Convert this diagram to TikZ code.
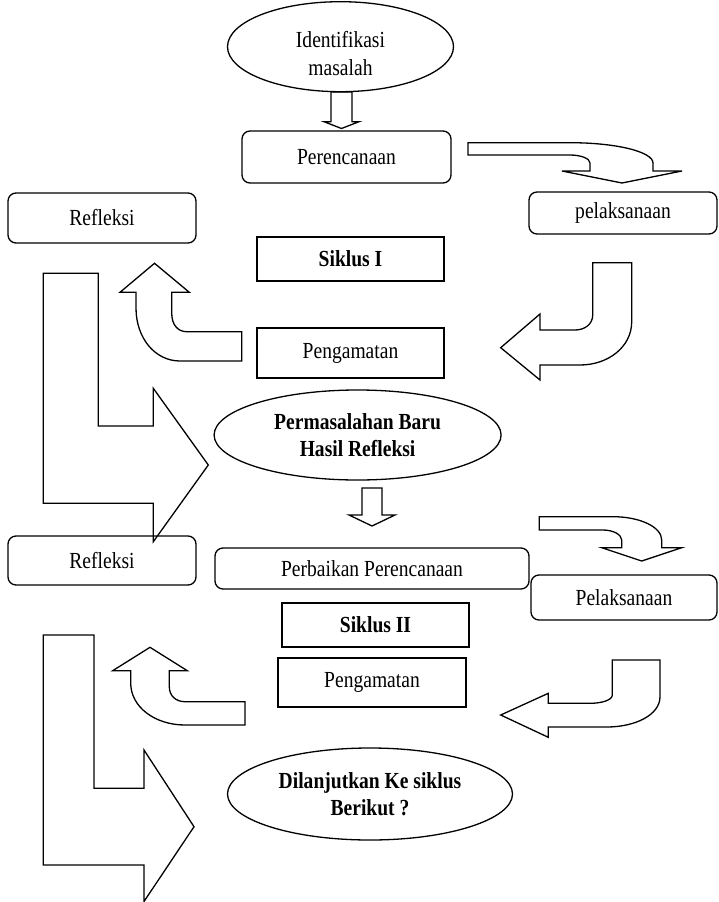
\documentclass[tikz,border=0pt]{standalone}
\usepackage{fontspec}
\setmainfont{Liberation Serif}[FakeStretch=0.85]
\usetikzlibrary{shapes.geometric}

\tikzset{
  outline/.style={draw=black, line width=1.3pt},
  roundbox/.style={outline, rectangle, rounded corners=8pt, inner sep=0pt},
  plainbox/.style={outline, rectangle, inner sep=0pt},
  oval/.style={outline, ellipse, inner sep=0pt, align=center},
  blockarrow/.style={outline, line join=miter},
  txt/.style={align=center, inner sep=0pt},
}

\begin{document}
\begin{tikzpicture}[x=1pt, y=-1pt,
  every node/.append style={font=\fontsize{23}{27.5}\selectfont}]
\useasboundingbox (0,0) rectangle (718,902);

% ---------- Siklus I ----------
\node[oval, minimum width=226, minimum height=90] (ident) at (340.5,46.7) {};
\node[txt] (identtext) at ([yshift=-7pt]ident.center) {Identifikasi\\masalah};

\node[roundbox, minimum width=209, minimum height=52] (plan1) at (346.5,157) {Perencanaan};
\node[roundbox, minimum width=188, minimum height=50] (refl1) at (102,218) {Refleksi};
\node[roundbox, minimum width=188, minimum height=42] (exec1) at (623,213) {pelaksanaan};
\node[plainbox, minimum width=187, minimum height=44] (cyc1) at (350.5,259) {\bfseries Siklus I};
\node[plainbox, minimum width=187, minimum height=50] (obs1) at (350.5,353) {Pengamatan};

% identification -> planning
\draw[blockarrow] (331,92) -- (352,92) -- (352,121.7) -- (359,121.7)
  -- (341.5,128.5) -- (324,121.7) -- (331,121.7) -- cycle;

% planning -> execution
\draw[blockarrow] (468,142.7) -- (570,142.7)
  .. controls (616,142.7) and (653,151.7) .. (653,163)
  -- (653,171) -- (682,171) -- (622,183) -- (562,171) -- (590,171) -- (590,163)
  .. controls (590,158.6) and (581,155) .. (570,155) -- (468,155) -- cycle;

% execution -> observation
\draw[blockarrow] (592.7,262.7) -- (631.7,262.7) -- (631.7,321.7)
  .. controls (631.7,347) and (608,365) .. (580,365)
  -- (540,365) -- (540,380) -- (500.7,347.7) -- (540,314) -- (540,330) -- (575,330)
  .. controls (585,330) and (592.7,324) .. (592.7,315) -- cycle;

% observation -> reflection
\draw[blockarrow] (241.7,331.7) -- (186.7,331.7)
  .. controls (178,331.7) and (171.7,325) .. (171.7,313)
  -- (171.7,292.3) -- (189.3,292.3) -- (154.5,263.3) -- (120,292.3) -- (136,292.3) -- (136,308)
  .. controls (136,338) and (155,361) .. (180,361) -- (241.7,361) -- cycle;

% reflection -> new problems
\draw[blockarrow] (43.3,273.3) -- (98.3,273.3) -- (98.3,426) -- (153.3,426)
  -- (153.3,388.3) -- (208.3,465) -- (153.3,541.7) -- (153.3,503.3)
  -- (43.3,503.3) -- cycle;

% ---------- transition ----------
\node[oval, minimum width=287, minimum height=90] (newprob) at (357.6,435)
  {\bfseries Permasalahan Baru\\\bfseries Hasil Refleksi};

\draw[blockarrow] (362,488) -- (382,488) -- (382,515) -- (395,515)
  -- (372,526) -- (349,515) -- (362,515) -- cycle;

% ---------- Siklus II ----------
\node[roundbox, minimum width=314, minimum height=41] (plan2) at (372,568.5) {Perbaikan Perencanaan};
\node[roundbox, minimum width=188, minimum height=49] (refl2) at (102,560.5) {Refleksi};
\node[roundbox, minimum width=186, minimum height=45] (exec2) at (624,597.5) {Pelaksanaan};
\node[plainbox, minimum width=187, minimum height=44] (cyc2) at (375.5,625) {\bfseries Siklus II};
\node[plainbox, minimum width=188, minimum height=49] (obs2) at (372,682.5) {Pengamatan};

% planning -> execution
\draw[blockarrow] (539.3,516.7) -- (613,516.7)
  .. controls (640,516.7) and (661.7,527) .. (661.7,540)
  -- (661.7,547.7) -- (681.7,547.7) -- (641.7,561) -- (601.7,547.7) -- (621.7,547.7) -- (621.7,540)
  .. controls (621.7,534.5) and (613,530) .. (603,530) -- (539.3,530) -- cycle;

% execution -> observation
\draw[blockarrow] (612.3,660) -- (660,660) -- (660,696.7)
  .. controls (660,715) and (635,727) .. (606.7,727)
  -- (548.3,727) -- (548.3,737.3) -- (500.7,715) -- (548.3,693.3) -- (548.3,703.3) -- (590,703.3)
  .. controls (602,703.3) and (612.3,700) .. (612.3,695) -- cycle;

% observation -> reflection
\draw[blockarrow] (245,701.7) -- (185,701.7)
  .. controls (176,701.7) and (169.3,696) .. (169.3,686.7)
  -- (169.3,670.7) -- (187.3,670.7) -- (150,647.3) -- (112.7,670.7) -- (130.7,670.7) -- (130.7,683)
  .. controls (130.7,707) and (155,725) .. (185,725) -- (245,725) -- cycle;

% reflection -> next decision
\draw[blockarrow] (43.3,635) -- (94,635) -- (94,788.3) -- (144,788.3)
  -- (144,750) -- (194,826.7) -- (144,901.5) -- (144,865)
  -- (43.3,865) -- cycle;

\node[oval, minimum width=285, minimum height=92] (next) at (370,794)
  {\bfseries Dilanjutkan Ke siklus\\\bfseries Berikut ?};

\end{tikzpicture}
\end{document}
